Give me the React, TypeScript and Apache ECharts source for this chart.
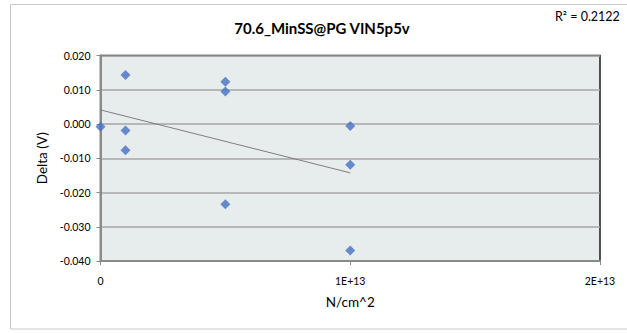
import React, { useEffect, useRef } from "react";
import * as echarts from "echarts";

const fluence = [0, 1e12, 1e12, 1e12, 5e12, 5e12, 5e12, 1e13, 1e13, 1e13];
const delta = [-0.0008, 0.0143, -0.0019, -0.0077, 0.0123, 0.0095, -0.0234, -0.0006, -0.0119, -0.0369];
const xTickLabels: Record<string, string> = { "0": "0", "10000000000000": "1E+13", "20000000000000": "2E+13" };
const titleText = "70.6_MinSS@PG VIN5p5v";
const r2Text = "R² = 0.2122";
const xName = "N/cm^2";
const yName = "Delta (V)";

function regression(xs: number[], ys: number[]) {
  const n = xs.length;
  const mx = xs.reduce((a, b) => a + b, 0) / n;
  const my = ys.reduce((a, b) => a + b, 0) / n;
  let sxy = 0, sxx = 0;
  for (let i = 0; i < n; i++) {
    sxy += (xs[i] - mx) * (ys[i] - my);
    sxx += (xs[i] - mx) * (xs[i] - mx);
  }
  const slope = sxy / sxx;
  return { slope, intercept: my - slope * mx };
}

export default function App() {
  const ref = useRef<HTMLDivElement>(null);
  useEffect(() => {
    if (!ref.current) return;
    const chart = echarts.init(ref.current, undefined, { renderer: "svg" });
    const { slope, intercept } = regression(fluence, delta);
    const xMin = Math.min(...fluence);
    const xMax = Math.max(...fluence);
    const font = "Lato, 'Liberation Sans', sans-serif";
    chart.setOption({
      animation: false,
      backgroundColor: "#ffffff",
      title: {
        text: titleText,
        left: 317,
        top: 15,
        textAlign: "center",
        textStyle: { fontFamily: font, fontSize: 15, fontWeight: "bold", color: "#000" },
      },
      graphic: [
        {
          type: "rect",
          shape: { x: 10.5, y: 4.5, width: 640, height: 324.5 },
          style: { fill: "none", stroke: "#c8c8c8", lineWidth: 1 },
          z: -10,
        },
        {
          type: "text",
          x: 555,
          y: 10,
          style: { text: r2Text, fontFamily: font, fontSize: 12.5, fill: "#000" },
        },
      ],
      grid: {
        left: 100.5,
        top: 55.5,
        right: 27,
        bottom: 72,
        show: true,
        backgroundColor: "#e7ecec",
        borderColor: "#1a1a1a",
        borderWidth: 1.5,
      },
      xAxis: {
        type: "value",
        min: 0,
        max: 2e13,
        interval: 1e13,
        name: xName,
        nameLocation: "middle",
        nameGap: 34,
        nameTextStyle: { fontFamily: font, fontSize: 13.5, color: "#000" },
        axisLine: { show: true, onZero: false, lineStyle: { color: "#8a8a8a", width: 2 } },
        axisTick: { show: true, length: 4, lineStyle: { color: "#8a8a8a" } },
        splitLine: { show: false },
        axisLabel: {
          fontFamily: font,
          fontSize: 10.5,
          color: "#000",
          margin: 14,
          formatter: (v: number) => xTickLabels[String(v)] ?? String(v),
        },
      },
      yAxis: {
        type: "value",
        min: -0.04,
        max: 0.02,
        interval: 0.01,
        name: yName,
        nameLocation: "middle",
        nameGap: 52,
        nameTextStyle: { fontFamily: font, fontSize: 13.5, color: "#000" },
        axisLine: { show: true, onZero: false, lineStyle: { color: "#8a8a8a", width: 2 } },
        axisTick: { show: true, length: 4, lineStyle: { color: "#8a8a8a" } },
        splitLine: { show: true, lineStyle: { color: "#a6a6a6", width: 1.5 } },
        axisLabel: {
          fontFamily: font,
          fontSize: 10.5,
          color: "#000",
          margin: 10,
          formatter: (v: number) => v.toFixed(3),
        },
      },
      series: [
        {
          type: "line",
          data: [
            [xMin, intercept + slope * xMin],
            [xMax, intercept + slope * xMax],
          ],
          showSymbol: false,
          symbol: "none",
          lineStyle: { color: "#7f7f7f", width: 1 },
          z: 1,
        },
        {
          type: "scatter",
          data: fluence.map((x, i) => [x, delta[i]]),
          symbol: "diamond",
          symbolSize: [10, 10],
          itemStyle: { color: "#4472c4" },
          z: 3,
        },
      ],
    });
    return () => chart.dispose();
  }, []);
  return (
    <div
      ref={ref}
      style={{ position: "fixed", left: 0, top: 0, width: 627, height: 333 }}
    />
  );
}
